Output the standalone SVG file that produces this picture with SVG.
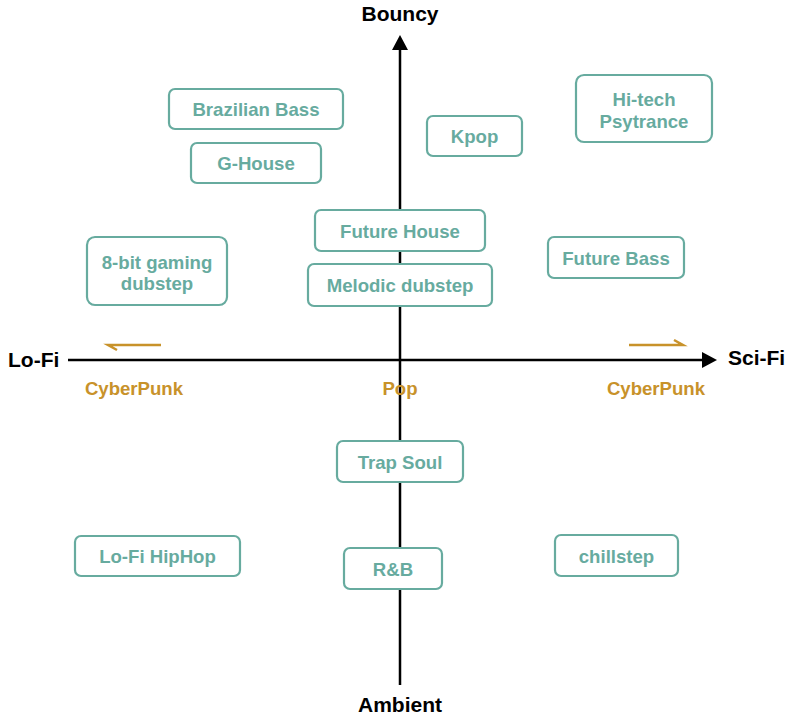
<svg xmlns="http://www.w3.org/2000/svg" width="800" height="719" viewBox="0 0 800 719">
<style>
.box{fill:#fff;stroke:#67AB9F;stroke-width:2.2}
.lbl{font-family:"Liberation Sans",Arial,sans-serif;font-weight:bold;font-size:18.6px;fill:#67AB9F;text-anchor:middle;dominant-baseline:central}
.ax{font-family:"Liberation Sans",Arial,sans-serif;font-weight:bold;font-size:21px;fill:#000;dominant-baseline:central}
.or{font-family:"Liberation Sans",Arial,sans-serif;font-weight:bold;font-size:18.6px;fill:#C8922A;text-anchor:middle;dominant-baseline:central}
.axis{stroke:#000;stroke-width:2.5;fill:none}
.oa{stroke:#C8922A;stroke-width:2.5;fill:none}
</style>
<rect width="800" height="719" fill="#fff"/>
<g id="connectors">
<line class="axis" x1="400" y1="685" x2="400" y2="48"/>
<polygon points="400,35 408,50 392,50" fill="#000"/>
<line class="axis" x1="68" y1="360" x2="704" y2="360"/>
<polygon points="717,360 702,352 702,368" fill="#000"/>
<polyline class="oa" points="161,345 108,345 117,350"/>
<polyline class="oa" points="629,345 683,345 674,340"/>
</g>
<g id="axis-labels">
<text class="ax" x="400" y="13" text-anchor="middle">Bouncy</text>
<text class="ax" x="400" y="704" text-anchor="middle">Ambient</text>
<text class="ax" x="8" y="359">Lo-Fi</text>
<text class="ax" x="728" y="357">Sci-Fi</text>
<text class="or" x="134" y="388">CyberPunk</text>
<text class="or" x="400" y="388">Pop</text>
<text class="or" x="656" y="388">CyberPunk</text>
</g>
<g id="brazilian-bass"><rect class="box" x="169" y="89" width="174" height="40" rx="6"/><text class="lbl" x="256" y="109">Brazilian Bass</text></g>
<g id="g-house"><rect class="box" x="191" y="143" width="130" height="40" rx="6"/><text class="lbl" x="256" y="163">G-House</text></g>
<g id="kpop"><rect class="box" x="427" y="116" width="95" height="40" rx="6"/><text class="lbl" x="474.5" y="136">Kpop</text></g>
<g id="hi-tech-psytrance"><rect class="box" x="576" y="75" width="136" height="67" rx="8"/><text class="lbl" x="644" y="99">Hi-tech</text><text class="lbl" x="644" y="121">Psytrance</text></g>
<g id="future-house"><rect class="box" x="315" y="210" width="170" height="41" rx="6"/><text class="lbl" x="400" y="231">Future House</text></g>
<g id="melodic-dubstep"><rect class="box" x="308" y="264" width="184" height="42" rx="6"/><text class="lbl" x="400" y="285">Melodic dubstep</text></g>
<g id="8-bit-gaming-dubstep"><rect class="box" x="87" y="237" width="140" height="68" rx="8"/><text class="lbl" x="157" y="262">8-bit gaming</text><text class="lbl" x="157" y="283">dubstep</text></g>
<g id="future-bass"><rect class="box" x="548" y="237" width="136" height="41" rx="6"/><text class="lbl" x="616" y="258">Future Bass</text></g>
<g id="trap-soul"><rect class="box" x="337" y="441" width="126" height="41" rx="6"/><text class="lbl" x="400" y="462">Trap Soul</text></g>
<g id="lo-fi-hiphop"><rect class="box" x="75" y="536" width="165" height="40" rx="6"/><text class="lbl" x="157.5" y="556">Lo-Fi HipHop</text></g>
<g id="rnb"><rect class="box" x="344" y="548" width="98" height="41" rx="6"/><text class="lbl" x="393" y="569">R&amp;B</text></g>
<g id="chillstep"><rect class="box" x="555" y="535" width="123" height="41" rx="6"/><text class="lbl" x="616.5" y="556">chillstep</text></g>
</svg>
